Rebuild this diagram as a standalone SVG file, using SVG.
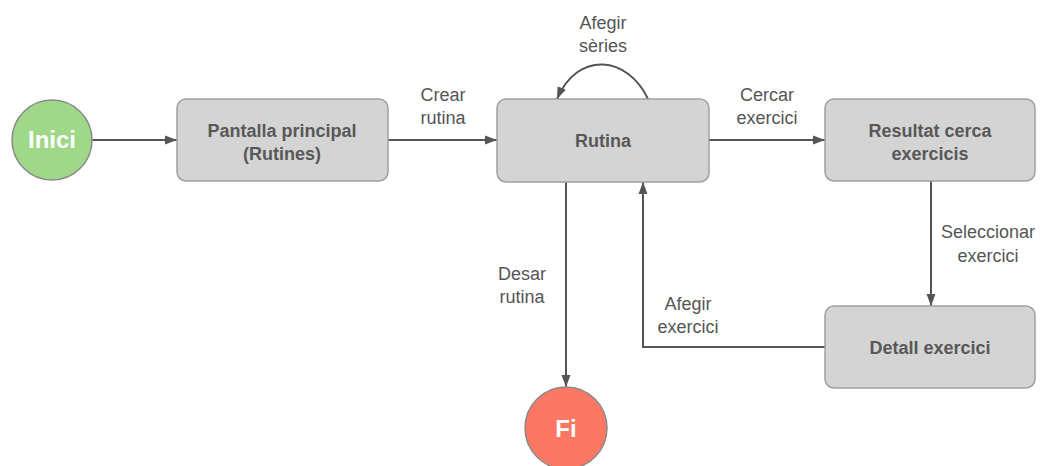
<svg xmlns="http://www.w3.org/2000/svg" width="1040" height="466" viewBox="0 0 1040 466">
  <style>
    .box { fill: #d4d4d4; stroke: #a0a0a0; stroke-width: 1.5; }
    .box-text { font-family: "Liberation Sans", Arial, sans-serif; font-size: 18px; font-weight: bold; fill: #585858; text-anchor: middle; }
    .term { stroke: #8a8a8a; stroke-width: 1.5; }
    .term-text { font-family: "Liberation Sans", Arial, sans-serif; font-size: 24px; font-weight: bold; fill: #fff; text-anchor: middle; }
    .edge { fill: none; stroke: #555; stroke-width: 2; marker-end: url(#arrow); }
    .label { font-family: "Liberation Sans", Arial, sans-serif; font-size: 18px; fill: #555; text-anchor: middle; }
  </style>
  <defs>
    <marker id="arrow" viewBox="0 0 12 10" refX="12" refY="5" markerWidth="12" markerHeight="10" markerUnits="userSpaceOnUse" orient="auto">
      <path d="M0,0.5 L12,5 L0,9.5 Z" fill="#555"/>
    </marker>
  </defs>
  <rect width="1040" height="466" fill="#fff"/>

  <g id="connectors">
    <path class="edge" d="M92,140 L177,140"/>
    <path class="edge" d="M388,140 L497,140"/>
    <path class="edge" d="M709,140 L825,140"/>
    <path class="edge" d="M648,99 C628,56 578,50 557,99"/>
    <path class="edge" d="M931,181 L931,306"/>
    <path class="edge" d="M825,347 L643,347 L643,182"/>
    <path class="edge" d="M566,182 L566,387"/>
  </g>

  <g id="edge-labels">
    <text class="label" x="443" y="101">Crear</text>
    <text class="label" x="443" y="124">rutina</text>
    <text class="label" x="603" y="29">Afegir</text>
    <text class="label" x="603" y="52">sèries</text>
    <text class="label" x="767" y="101">Cercar</text>
    <text class="label" x="767" y="124">exercici</text>
    <text class="label" x="988" y="238">Seleccionar</text>
    <text class="label" x="988" y="262">exercici</text>
    <text class="label" x="522" y="280">Desar</text>
    <text class="label" x="522" y="303">rutina</text>
    <text class="label" x="688" y="310">Afegir</text>
    <text class="label" x="688" y="333">exercici</text>
  </g>

  <g id="inici">
    <circle class="term" cx="52" cy="140" r="40" fill="#a0d889"/>
    <text class="term-text" x="52" y="148">Inici</text>
  </g>

  <g id="pantalla-principal">
    <rect class="box" x="177" y="99" width="211" height="82" rx="9"/>
    <text class="box-text" x="282" y="137">Pantalla principal</text>
    <text class="box-text" x="282" y="160">(Rutines)</text>
  </g>

  <g id="rutina">
    <rect class="box" x="497" y="99" width="212" height="83" rx="9"/>
    <text class="box-text" x="603" y="147">Rutina</text>
  </g>

  <g id="resultat-cerca">
    <rect class="box" x="825" y="99" width="210" height="82" rx="9"/>
    <text class="box-text" x="930" y="137">Resultat cerca</text>
    <text class="box-text" x="930" y="160">exercicis</text>
  </g>

  <g id="detall-exercici">
    <rect class="box" x="825" y="306" width="210" height="82" rx="9"/>
    <text class="box-text" x="930" y="354">Detall exercici</text>
  </g>

  <g id="fi">
    <circle class="term" cx="566" cy="428" r="41" fill="#fa7763"/>
    <text class="term-text" x="566" y="437">Fi</text>
  </g>
</svg>
